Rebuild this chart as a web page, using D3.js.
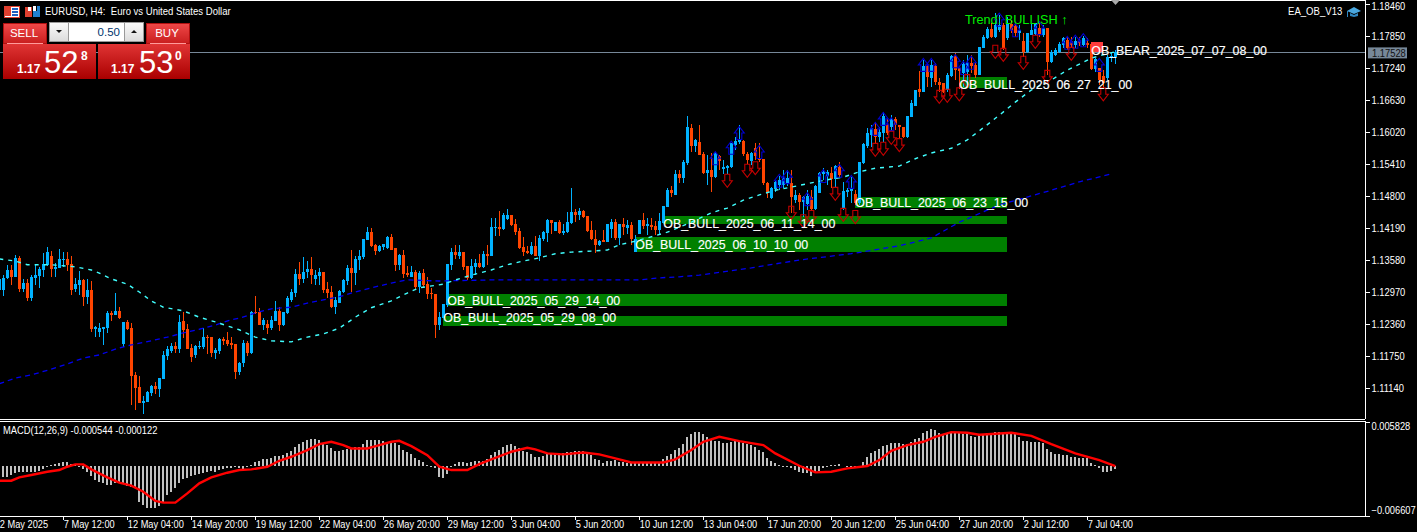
<!DOCTYPE html>
<html><head><meta charset="utf-8">
<script src="https://cdn.jsdelivr.net/npm/d3@7"></script>
<style>
html,body{margin:0;padding:0;background:#000;overflow:hidden}
svg{display:block}
text{font-family:"Liberation Sans",Arial,sans-serif;white-space:pre}
.ob{font-size:12.4px;fill:#fff;stroke:#fff;stroke-width:.15px}
.ax text{font-size:11px;fill:#fff}
.ax line{stroke:#fff}
</style></head><body><div id="c"></div>
<script>
// OHLC values, in pips above 1.10000
const priceBase = 1.1;
const opens = [301,301,324,339,326,362,303,314,286,324,328,339,349,366,341,343,358,360,350,303,
310,320,288,301,226,221,226,228,257,253,261,198,240,228,139,116,85,87,105,118,
112,131,175,185,194,188,242,226,190,177,192,192,211,211,181,185,207,206,200,198,
145,162,200,181,259,259,234,236,228,242,261,234,257,282,295,331,322,335,341,322,
328,335,303,297,268,276,297,318,343,333,358,364,396,411,387,375,383,381,402,381,
349,368,333,326,335,307,333,312,295,293,234,247,272,349,373,366,373,347,324,345,
352,345,370,366,419,421,417,436,444,427,413,383,375,370,385,366,398,410,434,413,
430,410,411,429,450,444,451,442,415,398,387,396,392,417,430,400,427,419,425,373,
408,434,423,425,423,415,429,459,491,482,522,514,543,610,575,583,560,524,530,516,
556,531,533,535,577,583,585,560,547,571,552,551,505,476,493,501,501,505,505,472,
482,469,465,478,455,486,522,518,524,512,535,455,488,490,484,467,543,575,596,608,
592,600,615,612,627,615,612,592,631,652,684,678,728,705,728,697,695,682,709,747,
724,714,716,734,730,711,762,781,798,783,796,806,781,808,804,791,775,755,787,789,
800,787,800,735,749,755,768,777,775,768,775,768,772,770,722,724,709,705,743,745];
const highs = [324,329,349,349,368,366,322,322,329,350,345,371,383,375,352,379,373,373,366,324,
337,322,322,318,232,238,230,261,261,295,268,240,244,238,145,137,99,108,120,126,
133,185,194,200,202,253,259,236,198,196,204,228,215,211,190,209,211,221,211,198,
164,206,204,261,289,267,247,244,251,280,268,259,289,303,341,354,364,356,364,339,
343,335,316,309,288,301,322,349,377,366,377,398,421,419,389,387,389,404,408,381,
370,377,347,347,339,337,341,326,305,293,259,274,350,381,387,387,373,347,360,360,
370,375,387,438,438,451,448,455,444,436,419,402,385,392,404,406,413,436,434,430,
434,427,450,495,455,457,453,442,432,415,396,415,427,436,436,427,438,434,430,406,
434,448,438,438,432,448,461,495,499,530,530,549,632,617,589,615,564,558,562,564,
558,549,539,581,592,615,587,564,564,581,581,551,507,497,509,518,530,530,530,491,
486,480,491,491,501,526,533,530,535,539,545,507,495,516,491,545,581,610,615,621,
612,640,629,634,631,615,612,632,663,682,718,739,734,739,734,705,695,714,749,753,
724,739,749,749,734,764,787,802,810,829,825,810,821,815,810,806,791,791,810,810,
810,806,800,758,762,774,783,783,783,783,783,785,781,774,743,724,720,749,753,758];
const lows = [299,289,322,310,326,297,297,280,280,310,305,326,347,326,326,343,345,337,291,297,
291,270,274,221,211,211,196,219,242,253,246,192,225,82,72,85,64,87,99,103,
97,131,167,181,181,181,209,188,164,171,188,188,179,173,169,179,196,194,188,131,
139,154,175,179,255,234,225,217,225,242,223,232,255,278,288,310,314,324,312,310,
310,295,286,267,255,276,295,310,297,310,339,360,396,383,368,373,377,379,377,337,
339,324,326,326,301,295,307,284,284,209,225,247,268,339,360,360,339,320,322,329,
343,343,349,366,404,404,415,434,423,406,379,366,370,368,366,356,394,392,408,413,
408,406,410,427,430,434,438,411,396,371,385,392,392,400,396,387,406,408,387,373,
408,417,406,415,406,406,429,459,478,482,505,505,539,564,564,558,522,501,488,514,
530,522,522,533,568,579,556,541,539,549,545,501,476,474,488,491,495,499,448,467,
453,440,453,453,453,486,511,501,495,495,514,453,478,467,463,463,541,571,573,579,
583,583,596,606,606,589,591,591,631,652,669,678,688,688,692,678,676,678,707,701,
684,688,692,714,705,711,762,779,781,781,793,758,777,791,783,777,745,753,787,787,
783,783,711,734,747,753,762,758,762,762,766,766,762,720,716,692,686,701,735,732];
const closes = [322,324,339,326,362,303,314,286,326,329,341,350,373,341,345,360,360,349,301,312,
320,288,301,226,230,228,230,257,253,261,247,240,226,137,114,85,89,106,118,112,
133,177,188,194,188,240,225,188,173,194,194,211,209,181,186,207,204,198,196,145,
162,200,181,259,257,234,244,228,244,261,234,259,286,297,331,322,335,341,329,329,
335,301,295,268,282,299,320,343,333,360,366,398,411,385,375,385,389,402,377,349,
368,331,329,335,307,333,310,293,293,234,249,274,350,373,368,373,345,324,347,352,
345,370,366,421,421,417,444,444,425,411,381,373,371,385,366,400,411,434,429,430,
410,413,430,450,444,451,440,413,398,387,394,392,427,430,400,427,421,425,398,398,
434,423,427,421,415,432,461,491,486,522,514,545,612,575,587,558,524,530,516,562,
547,535,537,581,585,589,560,549,562,556,549,505,486,495,507,511,514,514,478,482,
469,478,480,455,499,524,526,526,512,537,520,490,491,493,467,545,579,600,610,592,
602,632,600,627,615,612,592,632,657,682,678,728,707,730,697,692,678,711,747,720,
718,732,734,728,711,764,783,798,783,806,806,762,808,796,791,796,755,791,796,810,
787,800,735,755,758,770,781,762,768,775,772,781,768,722,741,701,695,745,747,755];

// Moving averages: bar number and value in pips above 1.10000
const maFastBars = [0,4,7,13,19,23,25,28,32,35,38,41,46,50,54,58,60,64,68,73,77,81,85,89,93,98,102,105,111,114,118,123,127,131,135,139,143,148,152,155,158,162,167,173,178,182,186,190,194,198,203,207,211,215,219,225,229,233,238,242,246,250,254,258,263,267,271,273,279];
const maFastVals = [360,356,349,349,345,339,333,322,312,297,280,268,261,249,240,230,225,211,204,202,211,217,228,249,267,280,295,305,312,320,329,339,349,356,362,370,373,375,377,387,392,400,411,430,448,457,472,482,491,497,505,511,516,526,533,537,551,562,571,587,610,634,659,682,701,720,735,743,755];
const maSlowBars = [0,4,8,13,17,21,25,29,33,38,42,46,50,54,58,60,64,68,73,77,81,85,89,93,98,102,110,123,150,160,165,170,175,188,200,213,225,233,240,250,263,270,278];
const maSlowVals = [122,133,139,150,160,171,177,188,196,204,211,219,226,234,244,247,257,265,268,276,282,288,297,305,314,320,318,320,320,320,324,326,329,343,358,370,385,400,430,463,491,507,522];

// Order block zones
const obNames = ["OB_BULL_2025_05_29_08_00","OB_BULL_2025_05_29_14_00","OB_BULL_2025_06_10_10_00","OB_BULL_2025_06_11_14_00","OB_BULL_2025_06_23_15_00","OB_BULL_2025_06_27_21_00"];
const obStart = [111,112,159,166,214,240];
const obEnd = 252;
const obHigh = [251,293,402,442,478,707];
const obLow = [232,270,373,427,457,686];
const obLabelAt = [248,280,387,427,467,692];
const bearName = "OB_BEAR_2025_07_07_08_00";
const bearBars = [273,276];
const bearRange = [774,755];
const bearLabelAt = 758;

// Arrows: bar number and pips above 1.10000
const downBars = [182,187,189,198,201,203,209,211,214,219,221,223,225,235,237,240,242,249,251,256,259,262,268,276];
const downVals = [509,528,533,448,432,440,484,444,440,568,570,591,577,669,671,674,699,755,749,734,774,707,751,674];
const upBars = [179,183,185,190,195,197,202,206,210,213,219,221,223,231,233,239,241,243,250,254,260,267,269,271,275];
const upVals = [552,572,600,564,509,516,474,518,528,507,608,627,617,730,730,737,724,734,816,796,800,772,774,777,730];

// MACD, in units of 0.00001
const macdHist = [-145,-145,-145,-119,-92,-79,-79,-79,-79,-79,-66,-40,-13,13,26,40,53,53,26,13,
-13,-40,-79,-132,-185,-211,-224,-251,-251,-224,-224,-224,-264,-277,-290,-475,-515,-554,-554,-554,
-528,-475,-383,-343,-290,-224,-172,-158,-132,-119,-106,-92,-79,-66,-79,-53,-40,-26,-26,-13,
-26,-40,-13,13,53,66,92,92,106,132,132,145,172,198,251,290,317,343,356,356,
343,304,277,238,198,198,211,224,238,251,251,290,343,343,343,343,330,317,317,304,
277,211,185,158,106,79,53,13,-13,-26,-145,-158,-106,-13,26,53,53,40,53,66,
66,66,92,145,185,211,251,277,290,264,238,198,185,158,119,119,132,158,158,158,
158,172,185,185,198,198,198,185,145,92,79,40,66,66,79,53,53,40,40,40,
40,53,53,53,53,53,92,132,158,211,238,290,383,422,449,449,422,383,356,330,
330,304,304,317,330,317,304,290,277,251,211,185,106,66,40,13,-13,-13,-26,-53,
-79,-92,-92,-132,-92,-66,-26,-13,13,13,26,0,-13,-13,-26,0,53,119,172,198,
224,264,277,304,304,304,290,290,317,356,370,436,462,488,475,436,422,422,436,449,
436,422,422,396,383,409,422,436,436,449,449,422,422,422,422,383,330,330,317,317,
317,304,224,185,158,158,145,145,119,119,106,106,106,40,13,-26,-79,-79,-66,-40];
const signalBars = [0,3,5,8,12,15,17,19,21,23,27,30,33,36,39,41,44,47,50,53,57,60,63,67,70,73,77,80,83,86,88,92,95,98,100,103,107,110,113,117,120,123,128,132,134,137,141,146,150,154,158,166,169,173,176,180,185,191,194,200,204,208,212,217,220,223,227,231,234,238,242,245,253,258,263,269,275,279];
const signalVals = [-194,-194,-150,-119,-75,-53,-9,22,22,-44,-150,-220,-260,-339,-462,-484,-484,-361,-229,-150,-88,-53,-44,-9,70,123,211,290,321,277,233,233,277,321,334,264,145,-9,-53,-53,26,88,189,242,220,167,154,180,154,101,48,48,88,211,321,387,330,277,167,4,-84,-75,-31,0,79,202,277,321,387,449,440,414,440,400,290,167,79,0];

// Axes
const priceTicks = [1.18460,1.17850,1.17240,1.16630,1.16020,1.15410,1.14800,1.14190,1.13580,1.12970,1.12360,1.11750,1.11140];
const macdTicks = [0.005828,-0.006607];
const timeBars = [0,16,32,48,64,80,96,112,128,144,160,176,192,208,224,240,256,272];
const timeLabels = ["2 May 2025","7 May 12:00","12 May 04:00","14 May 20:00","19 May 12:00","22 May 04:00","26 May 20:00","29 May 12:00","3 Jun 04:00","5 Jun 20:00","10 Jun 12:00","13 Jun 04:00","17 Jun 20:00","20 Jun 12:00","25 Jun 04:00","27 Jun 20:00","2 Jul 12:00","7 Jul 04:00"];
const bidPrice = 1.17528;

const W=1417,H=532;
const svg=d3.select("#c").append("svg").attr("width",W).attr("height",H).style("background","#000");
const defs=svg.append("defs");
function grad(id,a,b){const g=defs.append("linearGradient").attr("id",id).attr("x1",0).attr("x2",0).attr("y1",0).attr("y2",1);
 g.append("stop").attr("offset",0).attr("stop-color",a);g.append("stop").attr("offset",1).attr("stop-color",b);}
grad("gBtn","#f04848","#c81e1e");grad("gPrice","#e03434","#aa0000");grad("gSp","#fafafa","#dcdcdc");

// The platform font is narrower than any installed face: squeeze text to the measured width.
function fit(sel,ratio){sel.each(function(){const n=this;const w=n.getComputedTextLength();
 n.setAttribute("textLength",(w*ratio).toFixed(1));n.setAttribute("lengthAdjust","spacingAndGlyphs");});return sel;}

const x=d3.scaleLinear().domain([0,279]).range([-0.7,1115.3]);
const y=d3.scaleLinear().domain([1.18460,1.11140]).range([4,388]);
const ym=d3.scaleLinear().domain([0.005828,-0.006607]).range([422,516]);
const P=p=>y(priceBase+p/10000);
const BLUE="#00b2ff",ORANGE="#ff4500";
const crisp="crispEdges";

// order blocks
const bars=d3.range(280);
svg.append("g").attr("shape-rendering",crisp).selectAll("rect").data(obNames).join("rect")
 .attr("x",(d,i)=>x(obStart[i])).attr("width",(d,i)=>x(obEnd)-x(obStart[i]))
 .attr("y",(d,i)=>P(obHigh[i])).attr("height",(d,i)=>P(obLow[i])-P(obHigh[i])).attr("fill","#008000");

// current price line
svg.append("line").attr("x1",0).attr("x2",1365).attr("y1",y(bidPrice)).attr("y2",y(bidPrice)).attr("stroke","#778899").attr("shape-rendering",crisp);

// candles
const gc=svg.append("g").attr("shape-rendering",crisp);
const col=i=>closes[i]>=opens[i]?BLUE:ORANGE;
gc.selectAll(".w").data(bars).join("rect").attr("x",i=>Math.floor(x(i))).attr("width",1)
 .attr("y",i=>P(highs[i])).attr("height",i=>Math.max(1,P(lows[i])-P(highs[i]))).attr("fill",col);
gc.selectAll(".b").data(bars).join("rect").attr("x",i=>Math.floor(x(i))-1).attr("width",3)
 .attr("y",i=>P(Math.max(opens[i],closes[i]))).attr("height",i=>Math.max(1,P(Math.min(opens[i],closes[i]))-P(Math.max(opens[i],closes[i])))).attr("fill",col);

// moving averages
const lineP=(bs,vs)=>d3.line().x((d,i)=>x(bs[i])).y(d=>P(d))(vs);
svg.append("path").attr("d",lineP(maSlowBars,maSlowVals)).attr("fill","none").attr("stroke","#0000f0").attr("stroke-width",1.3).attr("stroke-dasharray","5 4");
svg.append("path").attr("d",lineP(maFastBars,maFastVals)).attr("fill","none").attr("stroke","#40ffff").attr("stroke-width",1.4).attr("stroke-dasharray","4 5");

// bear box
svg.append("rect").attr("x",x(bearBars[0])).attr("width",x(bearBars[1])-x(bearBars[0])).attr("y",P(bearRange[0])).attr("height",P(bearRange[1])-P(bearRange[0])).attr("fill","#ff3c3c").attr("shape-rendering",crisp);

// arrows
const downPath="M-2.5,-6.5L2.5,-6.5L2.5,0L5,0L0,6.5L-5,0L-2.5,0Z", upPath="M-2.5,6.5L2.5,6.5L2.5,0L5,0L0,-6.5L-5,0L-2.5,0Z";
svg.append("g").selectAll("path").data(upBars).join("path").attr("d",upPath).attr("transform",(d,i)=>`translate(${x(d)},${P(upVals[i])})`).attr("fill","none").attr("stroke","#0000d0").attr("stroke-width",1.1);
svg.append("g").selectAll("path").data(downBars).join("path").attr("d",downPath).attr("transform",(d,i)=>`translate(${x(d)},${P(downVals[i])})`).attr("fill","none").attr("stroke","#c40000").attr("stroke-width",1.1);

// labels
svg.append("g").selectAll("text").data(obNames).join("text").attr("class","ob").attr("x",(d,i)=>x(obStart[i])).attr("y",(d,i)=>P(obLabelAt[i])+4.5).text(d=>d);
svg.append("text").attr("class","ob").attr("x",x(bearBars[0])).attr("y",P(bearLabelAt)+4.5).text(bearName);
svg.append("text").attr("x",965).attr("y",24).style("font-size","12.7px").attr("fill","#00f000").text("Trend: BULLISH ↑");

// frame
const frame=svg.append("g").attr("stroke","#fff").attr("shape-rendering",crisp);
[[0,0.5,1365,0.5],[0,419.5,1365,419.5],[0,421.5,1365,421.5],[0,516.5,1365,516.5],[1365.5,0,1365.5,419],[1365.5,421,1365.5,517]].forEach(l=>frame.append("line").attr("x1",l[0]).attr("y1",l[1]).attr("x2",l[2]).attr("y2",l[3]));

// price axis
const ax=svg.append("g").attr("class","ax").attr("transform","translate(1365.5,0)").attr("shape-rendering",crisp)
 .call(d3.axisRight(y).tickValues(priceTicks).tickFormat(d3.format(".5f")).tickSize(4).tickPadding(2));
ax.select(".domain").remove();
ax.selectAll("text").filter((d,i)=>i==0).attr("transform","translate(0,2)");
fit(ax.selectAll("text"),0.85);
const ax2=svg.append("g").attr("class","ax").attr("transform","translate(1365.5,0)").attr("shape-rendering",crisp)
 .call(d3.axisRight(ym).tickValues(macdTicks).tickFormat(d3.format(".6f")).tickSize(4).tickPadding(2));
ax2.select(".domain").remove();
ax2.selectAll("text").style("font-size","10px").attr("transform",(d,i)=>i==0?"translate(0,4)":"translate(0,-6)");
fit(ax2.selectAll("text"),0.93);

// time axis
const tx=svg.append("g").attr("class","ax").attr("transform","translate(0,516.5)").attr("shape-rendering",crisp)
 .call(d3.axisBottom(x).tickValues(timeBars).tickFormat((d,i)=>timeLabels[i]).tickSize(3).tickPadding(1));
tx.select(".domain").remove();
tx.selectAll("text").attr("text-anchor","start");
fit(tx.selectAll("text"),0.84);

// current price tag
svg.append("rect").attr("x",1368).attr("y",y(bidPrice)-5.5).attr("width",39).attr("height",11).attr("fill","#778899");
fit(svg.append("text").attr("x",1372).attr("y",y(bidPrice)+4).style("font-size","11px").attr("fill","#111").text(d3.format(".5f")(bidPrice)),0.85);

// MACD histogram and signal
svg.append("g").attr("shape-rendering",crisp).selectAll("rect").data(macdHist).join("rect")
 .attr("x",(d,i)=>Math.floor(x(i))-1).attr("width",2)
 .attr("y",d=>ym(Math.max(0,d/1e5))).attr("height",d=>Math.abs(ym(d/1e5)-ym(0))).attr("fill","#c0c0c0");
svg.append("path").attr("d",d3.line().x((d,i)=>x(signalBars[i])).y(d=>ym(d/1e5))(signalVals)).attr("fill","none").attr("stroke","#ff0000").attr("stroke-width",2.4);
fit(svg.append("text").attr("x",3).attr("y",434).style("font-size","11px").attr("fill","#fff").text("MACD(12,26,9) -0.000544 -0.000122"),0.85);

// header
fit(svg.append("text").attr("x",45).attr("y",15).style("font-size","11.5px").attr("fill","#fff").text("EURUSD, H4:  Euro vs United States Dollar"),0.83);
fit(svg.append("text").attr("x",1288).attr("y",15).style("font-size","11px").attr("fill","#fff").text("EA_OB_V13"),0.87);
// small icons
const ic=svg.append("g").attr("shape-rendering",crisp);
ic.append("rect").attr("x",4).attr("y",6).attr("width",15).attr("height",11).attr("fill","#fff").attr("stroke","#e04030");
ic.append("rect").attr("x",5).attr("y",7).attr("width",6).attr("height",9).attr("fill","#e04030");
[8,11,14].forEach(v=>ic.append("rect").attr("x",12).attr("y",v).attr("width",6).attr("height",2).attr("fill","#2060c0"));
ic.append("rect").attr("x",25).attr("y",7).attr("width",7).attr("height",10).attr("fill","#e04030");
ic.append("rect").attr("x",28).attr("y",7).attr("width",3).attr("height",4).attr("fill","#fff");
ic.append("rect").attr("x",33).attr("y",6).attr("width",3).attr("height",5).attr("fill","#fff");
ic.append("rect").attr("x",37).attr("y",6).attr("width",3).attr("height",11).attr("fill","#2080d0");
ic.append("rect").attr("x",33).attr("y",11).attr("width",4).attr("height",6).attr("fill","#2080d0");
// hat
svg.append("path").attr("d","M1347,11L1354,7L1361,11L1354,14Z").attr("fill","#4aa8e0");
svg.append("path").attr("d","M1350,13L1350,16L1354,17L1358,16L1358,13L1354,15Z").attr("fill","#2f86c0");
svg.append("rect").attr("x",1347).attr("y",11).attr("width",1).attr("height",6).attr("fill","#2f86c0");
// top triangle
svg.append("path").attr("d","M1111,0L1120,0L1115.5,5Z").attr("fill","#a8a8a8");

// trade panel
const tp=svg.append("g");
function box(xx,yy,w,h,f,s){return tp.append("rect").attr("x",xx).attr("y",yy).attr("width",w).attr("height",h).attr("fill",f).attr("stroke",s||"none").attr("shape-rendering",crisp);}
box(3.5,23.5,43,20,"url(#gBtn)","#b01010");
box(146.5,23.5,43,20,"url(#gBtn)","#b01010");
box(3,44,93,35,"url(#gPrice)");
box(98,44,92,35,"url(#gPrice)");
tp.append("line").attr("x1",7).attr("x2",43).attr("y1",43.5).attr("y2",43.5).attr("stroke","#ff9a9a");
tp.append("line").attr("x1",150).attr("x2",186).attr("y1",43.5).attr("y2",43.5).attr("stroke","#ff9a9a");
const pt=(t,xx,yy,s,w,a)=>tp.append("text").attr("x",xx).attr("y",yy).attr("fill","#fff").attr("text-anchor",a||"start").style("font-size",s+"px").style("font-weight",w||"normal").text(t);
pt("SELL",24,37,11.5,"normal","middle");pt("BUY",167,37,11.5,"normal","middle");
box(49.5,22.5,19,19,"url(#gSp)","#999");box(68.5,22.5,56,19,"#fff","#999");box(124.5,22.5,19,19,"url(#gSp)","#999");
tp.append("path").attr("d","M56,30L62,30L59,33Z").attr("fill","#111");
tp.append("path").attr("d","M131,33L137,33L134,30Z").attr("fill","#111");
tp.append("text").attr("x",120).attr("y",36).attr("text-anchor","end").attr("fill","#00356e").style("font-size","11.5px").text("0.50");
pt("1.17",17,73,12,"bold");pt("52",44,73,31);pt("8",81,60,12,"bold");
pt("1.17",111,73,12,"bold");pt("53",139,73,31);pt("0",175,60,12,"bold");
</script></body></html>
